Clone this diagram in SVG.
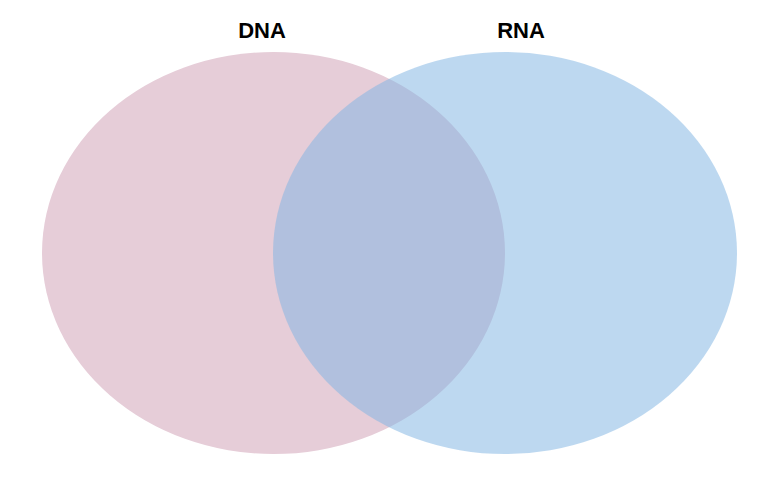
<svg xmlns="http://www.w3.org/2000/svg" width="776" height="489" viewBox="0 0 776 489">
<style>.t{font-family:"Liberation Sans",Arial,sans-serif;font-weight:bold;font-size:22px;fill:#000;text-anchor:middle}</style>
<rect width="776" height="489" fill="#fff"/>
<g id="dna"><ellipse cx="273.5" cy="253" rx="231.5" ry="201" fill="#e6cdd8"/><text class="t" x="262" y="38">DNA</text></g>
<g id="rna"><ellipse cx="505" cy="253" rx="232" ry="201" fill="#82b5e2" fill-opacity="0.53"/><text class="t" x="521" y="38">RNA</text></g>
<g id="connectors"/>
</svg>
